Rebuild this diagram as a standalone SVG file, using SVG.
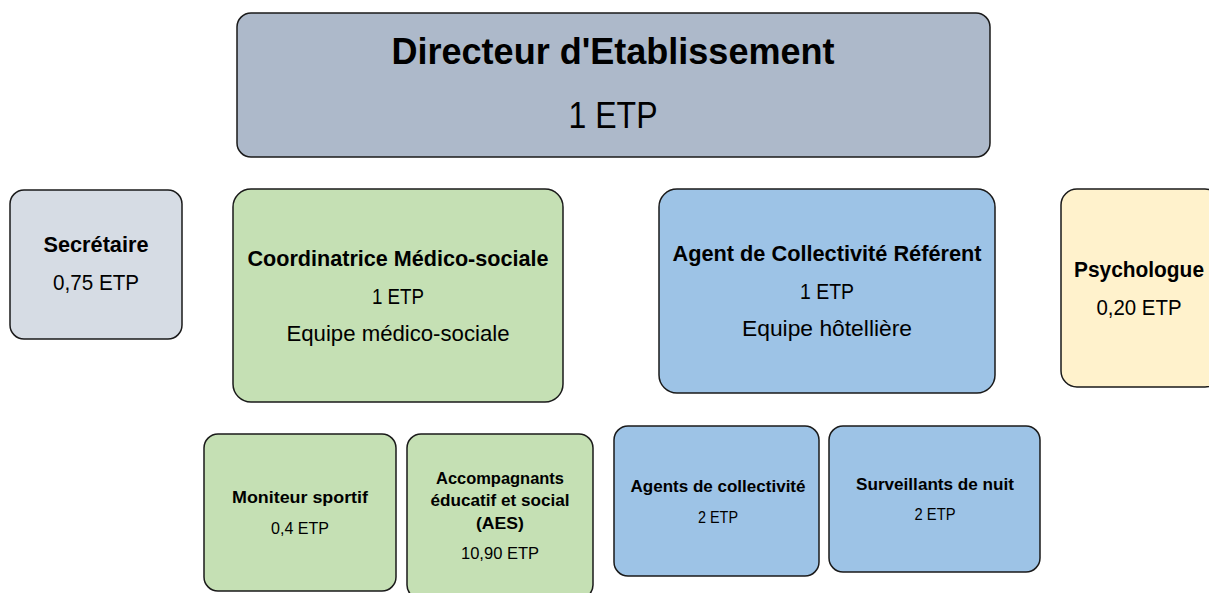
<svg xmlns="http://www.w3.org/2000/svg" width="1209" height="593" viewBox="0 0 1209 593">
<style>
.box{stroke:#1a1a1a;stroke-width:1.5}
text{font-family:"Liberation Sans",Arial,sans-serif;fill:#000;text-anchor:middle}
.b{font-weight:bold}
.gray{fill:#adb9ca}.lgray{fill:#d6dce4}.green{fill:#c5e0b4}.blue{fill:#9dc3e6}.yellow{fill:#fff2cc}
</style>
<rect x="0" y="0" width="1209" height="593" fill="#ffffff"/>
<g id="directeur">
<rect class="box gray" x="237" y="13" width="753" height="144" rx="14"/>
<text class="b" x="613" y="64" font-size="36" textLength="443" lengthAdjust="spacingAndGlyphs">Directeur d'Etablissement</text>
<text x="613" y="128" font-size="37" textLength="89" lengthAdjust="spacingAndGlyphs">1 ETP</text>
</g>
<g id="secretaire">
<rect class="box lgray" x="10" y="190" width="172" height="149" rx="14"/>
<text class="b" x="96" y="252" font-size="21.5" textLength="105" lengthAdjust="spacingAndGlyphs">Secrétaire</text>
<text x="96" y="290" font-size="21.5" textLength="86" lengthAdjust="spacingAndGlyphs">0,75 ETP</text>
</g>
<g id="coordinatrice">
<rect class="box green" x="233" y="189" width="330" height="213" rx="18"/>
<text class="b" x="398" y="266" font-size="21.5" textLength="301" lengthAdjust="spacingAndGlyphs">Coordinatrice Médico-sociale</text>
<text x="398" y="304" font-size="21.5" textLength="52" lengthAdjust="spacingAndGlyphs">1 ETP</text>
<text x="398" y="341" font-size="21.5" textLength="223" lengthAdjust="spacingAndGlyphs">Equipe médico-sociale</text>
</g>
<g id="agent-referent">
<rect class="box blue" x="659" y="189" width="336" height="204" rx="18"/>
<text class="b" x="827" y="261" font-size="21.5" textLength="309" lengthAdjust="spacingAndGlyphs">Agent de Collectivité Référent</text>
<text x="827" y="299" font-size="21.5" textLength="54" lengthAdjust="spacingAndGlyphs">1 ETP</text>
<text x="827" y="336" font-size="21.5" textLength="170" lengthAdjust="spacingAndGlyphs">Equipe hôtellière</text>
</g>
<g id="psychologue">
<rect class="box yellow" x="1061" y="189" width="160" height="198" rx="16"/>
<text class="b" x="1139" y="277" font-size="21.5" textLength="130" lengthAdjust="spacingAndGlyphs">Psychologue</text>
<text x="1139" y="315" font-size="21.5" textLength="85" lengthAdjust="spacingAndGlyphs">0,20 ETP</text>
</g>
<g id="moniteur">
<rect class="box green" x="204" y="434" width="192" height="157" rx="14"/>
<text class="b" x="300" y="503" font-size="17" textLength="136" lengthAdjust="spacingAndGlyphs">Moniteur sportif</text>
<text x="300" y="534" font-size="17" textLength="58" lengthAdjust="spacingAndGlyphs">0,4 ETP</text>
</g>
<g id="aes">
<rect class="box green" x="407" y="434" width="186" height="165" rx="14"/>
<text class="b" x="500" y="484" font-size="17" textLength="128" lengthAdjust="spacingAndGlyphs">Accompagnants</text>
<text class="b" x="500" y="506" font-size="17" textLength="139" lengthAdjust="spacingAndGlyphs">éducatif et social</text>
<text class="b" x="500" y="529" font-size="17" textLength="48" lengthAdjust="spacingAndGlyphs">(AES)</text>
<text x="500" y="559" font-size="17" textLength="78" lengthAdjust="spacingAndGlyphs">10,90 ETP</text>
</g>
<g id="agents-collectivite">
<rect class="box blue" x="614" y="426" width="205" height="150" rx="14"/>
<text class="b" x="718" y="492" font-size="17" textLength="175" lengthAdjust="spacingAndGlyphs">Agents de collectivité</text>
<text x="718" y="523" font-size="17" textLength="40" lengthAdjust="spacingAndGlyphs">2 ETP</text>
</g>
<g id="surveillants">
<rect class="box blue" x="829" y="426" width="211" height="146" rx="14"/>
<text class="b" x="935" y="490" font-size="17" textLength="158" lengthAdjust="spacingAndGlyphs">Surveillants de nuit</text>
<text x="935" y="520" font-size="17" textLength="41" lengthAdjust="spacingAndGlyphs">2 ETP</text>
</g>
<g id="connectors"></g>
</svg>
